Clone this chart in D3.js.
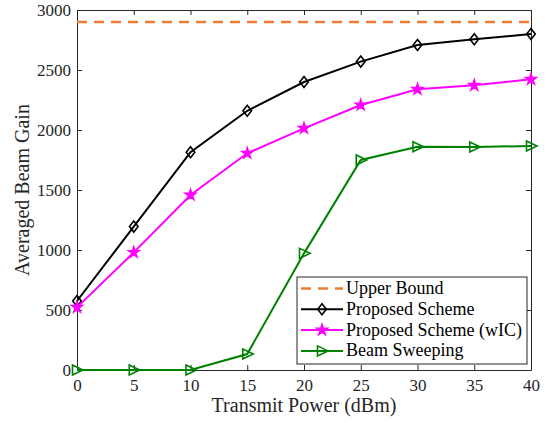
<!DOCTYPE html>
<html>
<head>
<meta charset="utf-8">
<script src="https://cdn.jsdelivr.net/npm/d3@7"></script>
<style>
  body { margin: 0; background: #fff; }
  svg { display: block; }
</style>
</head>
<body>
<div id="chart"></div>
<script>
// data
const powers = [0, 5, 10, 15, 20, 25, 30, 35, 40];
const upperBound = 2900;
const proposed = [575, 1195, 1815, 2160, 2400, 2570, 2708, 2756, 2800];
const proposedWIC = [522, 980, 1458, 1806, 2014, 2208, 2339, 2372, 2422];
const beamSweeping = [0, 0, 0, 133, 972, 1750, 1861, 1858, 1867];
const xTicks = [0, 5, 10, 15, 20, 25, 30, 35, 40];
const yTicks = [0, 500, 1000, 1500, 2000, 2500, 3000];

const width = 547, height = 423;
const margin = { left: 77, right: 16, top: 10, bottom: 53 };
const serif = '"Liberation Serif", "Times New Roman", serif';

const svg = d3.select('#chart').append('svg')
  .attr('width', width)
  .attr('height', height);

const x = d3.scaleLinear().domain([0, 40]).range([margin.left, width - margin.right]);
const y = d3.scaleLinear().domain([0, 3000]).range([height - margin.bottom, margin.top]);

const axisColor = '#262626';

// frame with inward ticks on all sides
const g = svg.append('g');
const styleAxis = sel => {
  sel.attr('font-family', serif).attr('font-size', 17);
  sel.select('.domain').attr('stroke', axisColor).attr('stroke-width', 1);
  sel.selectAll('.tick line').attr('stroke', axisColor);
  sel.selectAll('.tick text').attr('fill', axisColor);
};

g.append('g')
  .attr('transform', `translate(0,${y(0)})`)
  .call(d3.axisBottom(x).tickValues(xTicks).tickFormat(d3.format('d'))
    .tickSizeInner(-5).tickSizeOuter(0).tickPadding(9))
  .call(styleAxis);
g.append('g')
  .attr('transform', `translate(0,${y(3000)})`)
  .call(d3.axisTop(x).tickValues(xTicks).tickSizeInner(-5).tickSizeOuter(0).tickFormat(''))
  .call(styleAxis);
g.append('g')
  .attr('transform', `translate(${x(0)},0)`)
  .call(d3.axisLeft(y).tickValues(yTicks).tickFormat(d3.format('d'))
    .tickSizeInner(-5).tickSizeOuter(0).tickPadding(6))
  .call(styleAxis);
g.append('g')
  .attr('transform', `translate(${x(40)},0)`)
  .call(d3.axisRight(y).tickValues(yTicks).tickSizeInner(-5).tickSizeOuter(0).tickFormat(''))
  .call(styleAxis);

// axis titles
svg.append('text')
  .attr('x', (x(0) + x(40)) / 2)
  .attr('y', 412)
  .attr('text-anchor', 'middle')
  .attr('fill', axisColor)
  .attr('font-family', serif)
  .attr('font-size', 20)
  .text('Transmit Power (dBm)');
svg.append('text')
  .attr('transform', `translate(29,${(y(0) + y(3000)) / 2}) rotate(-90)`)
  .attr('text-anchor', 'middle')
  .attr('fill', axisColor)
  .attr('font-family', serif)
  .attr('font-size', 20)
  .text('Averaged Beam Gain');

// markers
const diamond = (sel, color) => sel.append('path')
  .attr('d', 'M0,-5.5L4.3,0L0,5.5L-4.3,0Z')
  .attr('fill', 'none').attr('stroke', color).attr('stroke-width', 1.6);
const starPath = d3.symbol().type(d3.symbolStar).size(42)();
const star = (sel, color) => sel.append('path')
  .attr('d', starPath)
  .attr('fill', color).attr('stroke', color).attr('stroke-width', 1.2);
const triangle = (sel, color) => sel.append('path')
  .attr('d', 'M-4.5,-5L6,0L-4.5,5Z')
  .attr('fill', 'none').attr('stroke', color).attr('stroke-width', 1.6);

const line = d3.line().x((d, i) => x(powers[i])).y(d => y(d));

const series = [
  { name: 'Proposed Scheme', values: proposed, color: '#000000', marker: diamond },
  { name: 'Proposed Scheme (wIC)', values: proposedWIC, color: '#ff00ff', marker: star },
  { name: 'Beam Sweeping', values: beamSweeping, color: '#008000', marker: triangle }
];

// upper bound dashed line
svg.append('line')
  .attr('x1', x(0)).attr('x2', x(40))
  .attr('y1', y(upperBound)).attr('y2', y(upperBound))
  .attr('stroke', '#ee7d31').attr('stroke-width', 2.5)
  .attr('stroke-dasharray', '10,7');

series.forEach(s => {
  svg.append('path')
    .datum(s.values)
    .attr('d', line)
    .attr('fill', 'none')
    .attr('stroke', s.color)
    .attr('stroke-width', 2);
  s.values.forEach((v, i) => {
    const m = svg.append('g').attr('transform', `translate(${x(powers[i])},${y(v)})`);
    s.marker(m, s.color);
  });
});

// legend
const legend = svg.append('g').attr('transform', 'translate(297,277)');
legend.append('rect')
  .attr('width', 230).attr('height', 87)
  .attr('fill', '#fff').attr('stroke', axisColor).attr('stroke-width', 1);

const legendItems = [
  { name: 'Upper Bound', color: '#ee7d31', dashed: true },
  ...series
];
legendItems.forEach((d, i) => {
  const row = legend.append('g').attr('transform', `translate(0,${11.5 + i * 20.8})`);
  const l = row.append('line')
    .attr('x1', 4).attr('x2', 46)
    .attr('stroke', d.color)
    .attr('stroke-width', d.dashed ? 2.5 : 2);
  if (d.dashed) l.attr('stroke-dasharray', '10,7');
  if (d.marker) d.marker(row.append('g').attr('transform', 'translate(25,0)'), d.color);
  row.append('text')
    .attr('x', 49).attr('y', 5.5)
    .attr('fill', '#000')
    .attr('font-family', serif)
    .attr('font-size', 18)
    .text(d.name);
});
</script>
</body>
</html>
